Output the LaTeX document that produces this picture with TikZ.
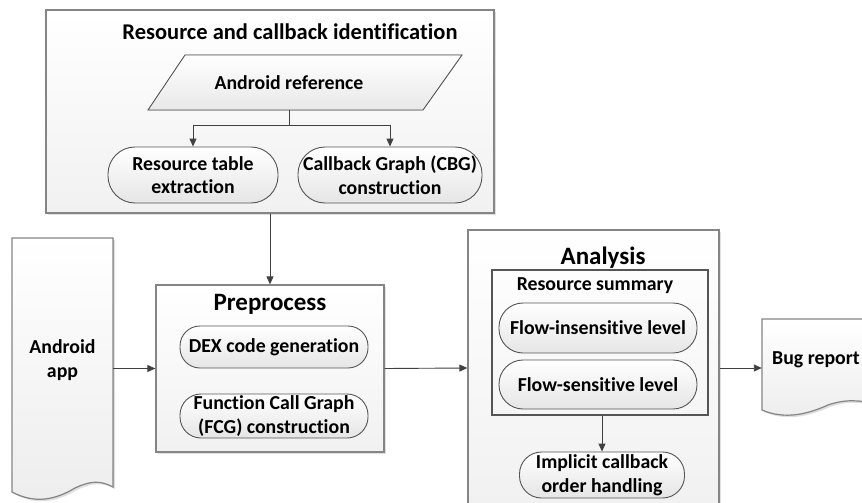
\documentclass[tikz,border=0pt]{standalone}
\usepackage{fontspec}
\setmainfont{Carlito}[RawFeature={-liga;-clig;-calt}]
\usetikzlibrary{positioning,shadows,arrows.meta}

\definecolor{edgegray}{HTML}{858585}
\definecolor{linegray}{HTML}{555555}
\definecolor{arrowgray}{HTML}{404040}

\begin{document}
\begin{tikzpicture}[
    x=1pt, y=-1pt,
    every node/.style={font=\fontsize{19.8}{23.5}\selectfont\bfseries, align=center, inner sep=0pt},
    panel/.style={draw=edgegray, line width=1.3pt, top color=white, bottom color=gray!11,
        drop shadow={shadow xshift=2pt, shadow yshift=-2pt, fill=gray!70, opacity=.35}},
    stagebox/.style={rectangle, rounded corners=#1, draw=linegray, line width=0.9pt,
        top color=white, bottom color=gray!20},
    stagebox/.default=20pt,
    docshape/.style={draw=edgegray, line width=1.2pt, top color=white, bottom color=gray!14,
        drop shadow={shadow xshift=2pt, shadow yshift=-2pt, fill=gray!70, opacity=.35}},
    flow/.style={draw=arrowgray, line width=0.9pt, -{Triangle[length=8pt,width=7pt]}},
    bigtitle/.style={font=\fontsize{25}{28}\selectfont\bfseries}
]

\path[use as bounding box, fill=white] (0,0) rectangle (862,503);
\clip (0,0) rectangle (862,503);

% Resource and callback identification
\node[panel, minimum width=448pt, minimum height=203pt] (rci) at (270,111.5) {};
\node[font=\fontsize{22.5}{26}\selectfont\bfseries] (rcititle) at (290,32) {Resource and callback identification};
\filldraw[draw=linegray, line width=0.9pt, top color=white, bottom color=gray!18]
    (185,55) -- (462,55) -- (423,110) -- (148,110) -- cycle;
\node[minimum height=55pt] (ref) at (289,82.5) {Android reference};
\node[stagebox=27pt, minimum width=170pt, minimum height=56pt] (rte) at (193,175) {Resource table\\extraction};
\node[stagebox=27pt, minimum width=184pt, minimum height=56pt] (cbg) at (390,175) {Callback Graph (CBG)\\construction};
\draw[flow] (ref.south) -- ++(0,15) -| (rte.north);
\draw[flow] (ref.south) -- ++(0,15) -| (cbg.north);

% Android app
\filldraw[docshape] (12,238) -- (113,238) -- (113,487)
    .. controls (100,480) and (90,481) .. (75,488)
    .. controls (55,500) and (35,504) .. (12,492) -- cycle;
\node[minimum width=101pt] (app) at (62.5,360) {Android\\app};

% Preprocess
\node[panel, minimum width=228pt, minimum height=167pt] (pre) at (270,368.5) {};
\node[bigtitle] (pretitle) at (270,304) {Preprocess};
\node[stagebox=20pt, minimum width=188pt, minimum height=42pt] (dex) at (274,347) {DEX code generation};
\node[stagebox=21pt, minimum width=188pt, minimum height=44pt] (fcg) at (274,416) {Function Call Graph\\(FCG) construction};

% Analysis
\node[panel, minimum width=251pt, minimum height=276pt] (ana) at (593.5,368) {};
\node[bigtitle] (anatitle) at (603,258) {Analysis};
\node[draw=linegray, line width=1.2pt, minimum width=216pt, minimum height=145pt] (rsum) at (600,342.5) {};
\node (rsumtitle) at (595,285.5) {Resource summary};
\node[stagebox=24pt, minimum width=198pt, minimum height=50pt] (fil) at (598,328) {Flow-insensitive level};
\node[stagebox=24pt, minimum width=198pt, minimum height=49pt] (fsl) at (598,384.5) {Flow-sensitive level};
\node[stagebox=22pt, minimum width=165pt, minimum height=46pt] (ich) at (602,475) {Implicit callback\\order handling};

% Bug report
\filldraw[docshape] (762,319) -- (875,319) -- (875,404)
    .. controls (860,400) and (845,399) .. (828,405)
    .. controls (808,414) and (785,420) .. (762,410) -- cycle;
\node[minimum width=108pt] (bug) at (816,360) {Bug report};

% Flow between stages
\draw[flow] (rci.south) -- (pre.north);
\draw[flow] (app.east |- pre.west) -- (pre.west);
\draw[flow] (pre.east) -- (ana.west);
\draw[flow] (rsum.south -| ich.north) -- (ich.north);
\draw[flow] (ana.east) -- (ana.east -| bug.west);

\end{tikzpicture}
\end{document}
